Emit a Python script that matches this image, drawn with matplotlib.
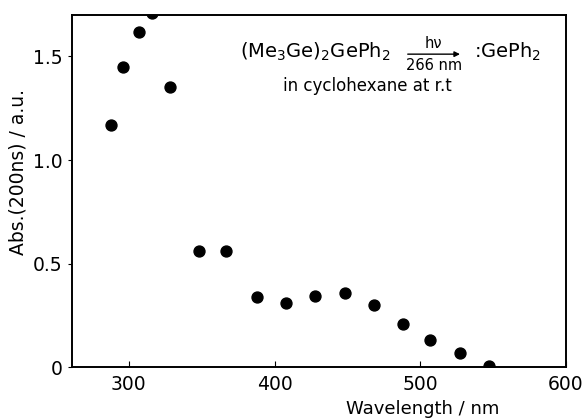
import matplotlib
matplotlib.use("Agg")
import matplotlib.pyplot as plt

wavelength = [288, 296, 307, 316, 328, 348, 367, 388, 408, 428, 448, 468, 488, 507, 527, 547]
absorbance = [1.17, 1.45, 1.62, 1.71, 1.355, 0.56, 0.56, 0.34, 0.31, 0.343, 0.36, 0.30, 0.21, 0.13, 0.068, 0.006]
xticks = [300, 400, 500, 600]
yticks = [0, 0.5, 1.0, 1.5]
ytick_labels = ["0", "0.5", "1.0", "1.5"]

plt.rcParams['font.family'] = ['DejaVu Sans']
fig = plt.figure(figsize=(5.84, 4.19), dpi=100)
ax = fig.add_axes([0.1233, 0.124, 0.8459, 0.840])

ax.scatter(wavelength, absorbance, s=62, color='black', zorder=3, clip_on=True)

ax.set_xlim(261, 600)
ax.set_ylim(0, 1.70)
ax.set_xticks(xticks)
ax.set_xticklabels([str(t) for t in xticks])
ax.set_yticks(yticks)
ax.set_yticklabels(ytick_labels)
ax.tick_params(axis='x', direction='in', length=4, labelsize=13.5, pad=6)
ax.tick_params(axis='y', direction='out', length=3, labelsize=13.5, pad=4)
for s in ax.spines.values():
    s.set_linewidth(1.4)

ax.set_xlabel("Wavelength / nm", fontsize=13)
ax.xaxis.set_label_coords(0.71, -0.095)
ax.set_ylabel("Abs.(200ns) / a.u.", fontsize=13.5)
ax.yaxis.set_label_coords(-0.09, 0.554)

ax.text(0.34, 0.895, r"(Me$_3$Ge)$_2$GePh$_2$", transform=ax.transAxes,
        fontsize=14, ha='left', va='center')
ax.annotate("", xy=(0.791, 0.889), xytext=(0.674, 0.889), xycoords='axes fraction',
            arrowprops=dict(arrowstyle='-|>', color='black', lw=1.0, mutation_scale=8))
ax.text(0.731, 0.918, "hν", transform=ax.transAxes, fontsize=10.5, ha='center', va='center')
ax.text(0.732, 0.857, "266 nm", transform=ax.transAxes, fontsize=10.5, ha='center', va='center')
ax.text(0.814, 0.895, r":GePh$_2$", transform=ax.transAxes, fontsize=14, ha='left', va='center')
ax.text(0.427, 0.798, "in cyclohexane at r.t", transform=ax.transAxes,
        fontsize=12, ha='left', va='center')

fig.savefig("out.png", dpi=100)
